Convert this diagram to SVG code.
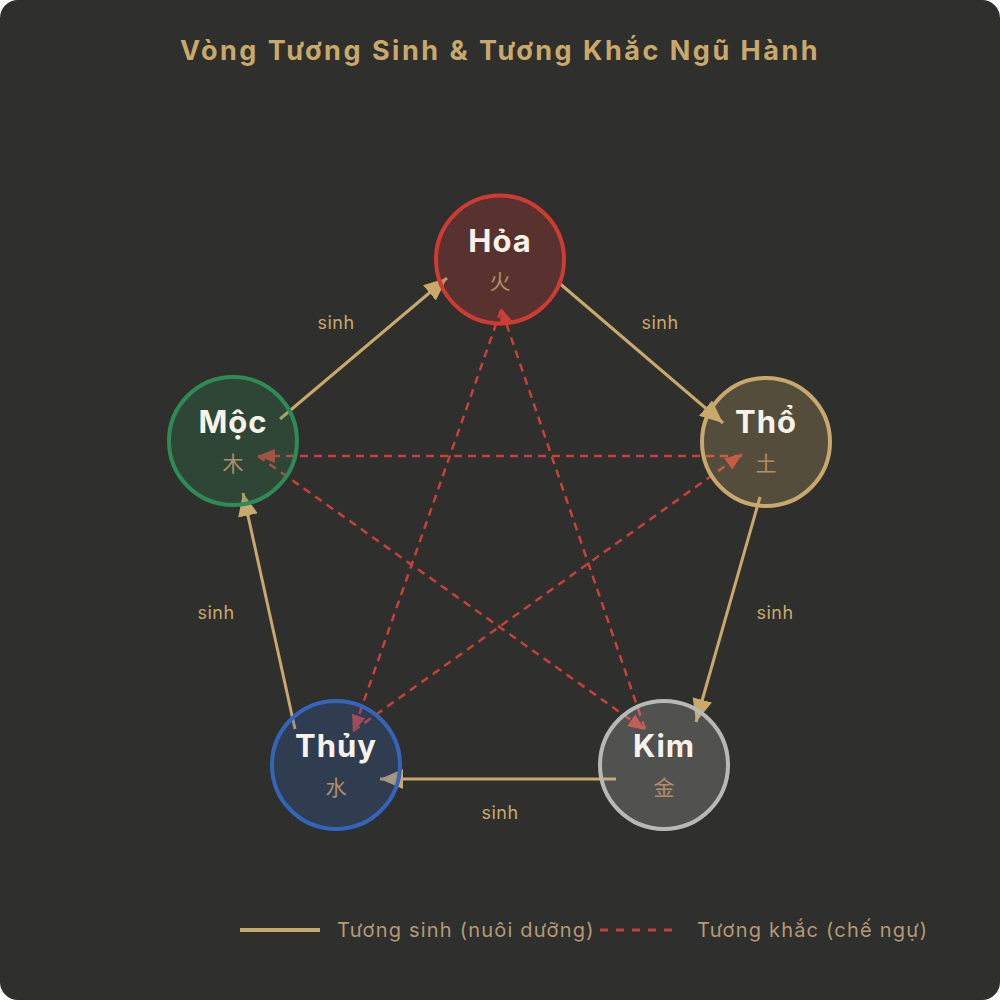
<svg xmlns="http://www.w3.org/2000/svg" width="1000" height="1000" viewBox="0 0 1000 1000">
  <defs>
    <style>
      .title { font-family: Inter, "Noto Sans", sans-serif; font-weight: 700; font-size: 27px; letter-spacing: 2.5px; fill: #c8a96b; text-anchor: middle; }
      .name { font-family: Inter, "Noto Sans", sans-serif; font-weight: 700; font-size: 31px; letter-spacing: 1px; fill: #f7f3ea; text-anchor: middle; }
      .han { font-family: "Noto Sans CJK SC", "Noto Sans CJK JP", sans-serif; font-size: 21px; fill: #b08e6a; text-anchor: middle; }
      .lbl { font-family: Inter, "Noto Sans", sans-serif; font-size: 18px; letter-spacing: 0.5px; fill: #c8a96b; text-anchor: middle; }
      .leg { font-family: Inter, "Noto Sans", sans-serif; font-size: 20px; letter-spacing: 1.2px; fill: #b59a78; }
      .sinh { stroke: #c8a96b; stroke-width: 3; fill: none; marker-end: url(#arrSinh); }
      .khac { stroke: #c8403a; stroke-width: 2.5; fill: none; stroke-dasharray: 8 6; marker-end: url(#arrKhac); }
      .node { stroke-width: 4; fill-opacity: 0.25; }
    </style>
    <marker id="arrSinh" markerUnits="userSpaceOnUse" markerWidth="23" markerHeight="20" refX="23" refY="10" orient="auto">
      <path d="M0,0 L23,10 L0,20 z" fill="#c8a96b"/>
    </marker>
    <marker id="arrKhac" markerUnits="userSpaceOnUse" markerWidth="17" markerHeight="14" refX="17" refY="7" orient="auto">
      <path d="M0,0 L17,7 L0,14 z" fill="#c8403a"/>
    </marker>
  </defs>

  <rect x="0" y="0" width="1000" height="1000" fill="#ffffff"/>
  <rect x="0" y="0" width="1000" height="1000" rx="18" ry="18" fill="#2f2f2d"/>

  <text class="title" x="500" y="60">Vòng Tương Sinh &amp; Tương Khắc Ngũ Hành</text>

  <g id="connectors">
    <g id="sinh">
      <line class="sinh" x1="280" y1="419" x2="447" y2="278"/>
      <line class="sinh" x1="558" y1="282" x2="723" y2="423"/>
      <line class="sinh" x1="760" y1="497" x2="696" y2="722"/>
      <line class="sinh" x1="616" y1="779" x2="380" y2="779"/>
      <line class="sinh" x1="295" y1="729" x2="243" y2="493"/>
    </g>
    <g id="khac">
      <line class="khac" x1="742" y1="456" x2="258" y2="456"/>
      <line class="khac" x1="353" y1="731" x2="742" y2="454"/>
      <line class="khac" x1="501" y1="310" x2="353" y2="732"/>
      <line class="khac" x1="645" y1="729" x2="501" y2="308"/>
      <line class="khac" x1="258" y1="456" x2="645" y2="730"/>
    </g>
    <g id="edge-labels">
      <text class="lbl" x="336" y="329">sinh</text>
      <text class="lbl" x="660" y="329">sinh</text>
      <text class="lbl" x="775" y="619">sinh</text>
      <text class="lbl" x="500" y="819">sinh</text>
      <text class="lbl" x="216" y="619">sinh</text>
    </g>
  </g>

  <g id="node-hoa">
    <circle class="node" cx="500" cy="259.5" r="64" fill="#d03a34" stroke="#d03a34"/>
    <text class="name" x="500" y="252">Hỏa</text>
    <text class="han" x="500" y="289">火</text>
  </g>
  <g id="node-tho">
    <circle class="node" cx="766" cy="442" r="64" fill="#c8a96b" stroke="#c8a96b"/>
    <text class="name" x="766" y="433">Thổ</text>
    <text class="han" x="766" y="471">土</text>
  </g>
  <g id="node-moc">
    <circle class="node" cx="233" cy="441" r="64" fill="#2e8b57" stroke="#2e8b57"/>
    <text class="name" x="233" y="433">Mộc</text>
    <text class="han" x="233" y="471">木</text>
  </g>
  <g id="node-thuy">
    <circle class="node" cx="336" cy="765" r="64" fill="#3366bb" stroke="#3366bb"/>
    <text class="name" x="336" y="757">Thủy</text>
    <text class="han" x="336" y="795">水</text>
  </g>
  <g id="node-kim">
    <circle class="node" cx="664" cy="765" r="64" fill="#b8b8b8" stroke="#b8b8b8"/>
    <text class="name" x="664" y="757">Kim</text>
    <text class="han" x="664" y="795">金</text>
  </g>

  <g id="legend">
    <line x1="240" y1="930" x2="320" y2="930" stroke="#c8a96b" stroke-width="4"/>
    <text class="leg" x="337" y="937">Tương sinh (nuôi dưỡng)</text>
    <line x1="600" y1="930" x2="674" y2="930" stroke="#c8403a" stroke-width="3" stroke-dasharray="8 8"/>
    <text class="leg" x="697" y="937">Tương khắc (chế ngự)</text>
  </g>
</svg>
